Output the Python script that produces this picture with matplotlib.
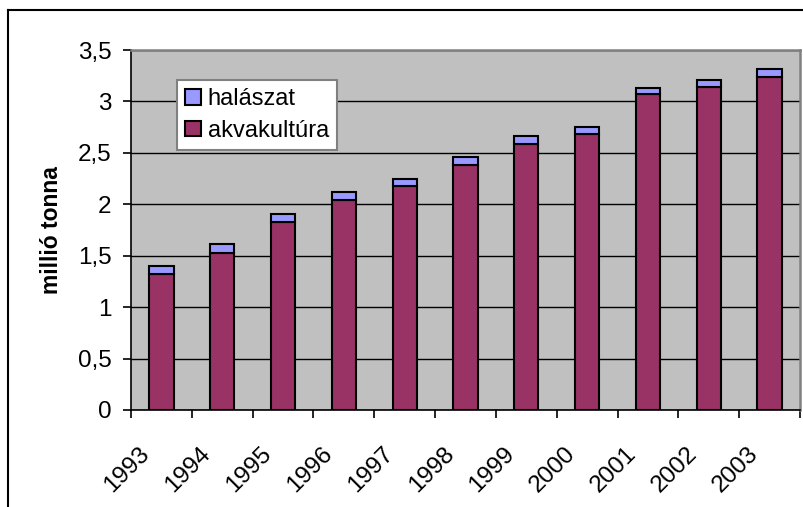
import matplotlib.pyplot as plt
import matplotlib.transforms as mtransforms
from matplotlib.ticker import FixedLocator, FuncFormatter
from matplotlib.lines import Line2D
import numpy as np

plt.rcParams['font.family'] = ['Liberation Sans', 'DejaVu Sans']

# adatok (millió tonna)
evek = ['1993', '1994', '1995', '1996', '1997', '1998',
        '1999', '2000', '2001', '2002', '2003']
akvakultura = [1.32, 1.53, 1.83, 2.04, 2.18, 2.385, 2.59, 2.68, 3.07, 3.14, 3.24]
halaszat = [0.08, 0.08, 0.08, 0.08, 0.07, 0.075, 0.075, 0.07, 0.06, 0.07, 0.075]

fig = plt.figure(figsize=(8.04, 5.07), dpi=100)
ax = fig.add_axes([131 / 804, 1 - 410 / 507, 669 / 804, 360 / 507])
ax.set_facecolor('#C0C0C0')

x = np.arange(len(evek))
ax.bar(x, akvakultura, width=0.4, color='#993366', edgecolor='black',
       linewidth=1.5, label='akvakultúra', zorder=3)
ax.bar(x, halaszat, width=0.4, bottom=akvakultura, color='#9999FF',
       edgecolor='black', linewidth=1.5, label='halászat', zorder=3)

ax.set_xlim(-0.5, len(evek) - 0.5)
ax.set_ylim(0, 3.5)
ax.set_yticks(np.arange(0, 3.51, 0.5))
ax.yaxis.set_major_formatter(FuncFormatter(lambda v, p: ('%g' % v).replace('.', ',')))
ax.grid(axis='y', color='black', linewidth=1, zorder=1)

ax.set_xticks(x)
ax.set_xticklabels(evek, rotation=45, ha='right', va='center', rotation_mode='anchor')
ax.xaxis.set_minor_locator(FixedLocator(np.arange(-0.5, len(evek), 1)))
ax.tick_params(axis='x', which='major', length=0, pad=29, labelsize=17.5)
ax.tick_params(axis='x', which='minor', length=6, width=1.2, direction='out')
ax.tick_params(axis='y', length=6, width=1.2, pad=8, labelsize=17.5)

# évszámok kissé balra tolva, mint az eredetin
eltolas = mtransforms.ScaledTranslation(-0.15, 0, fig.dpi_scale_trans)
for lbl in ax.get_xticklabels():
    lbl.set_transform(lbl.get_transform() + eltolas)

for s in ['top', 'right']:
    ax.spines[s].set_color('#808080')
    ax.spines[s].set_linewidth(1.8)
for s in ['left', 'bottom']:
    ax.spines[s].set_color('black')
    ax.spines[s].set_linewidth(1.2)

fig.text(52 / 804, 1 - 230 / 507, 'millió tonna', rotation=90, ha='center',
         va='center', fontsize=16.5, fontweight='bold')

h, l = ax.get_legend_handles_labels()
leg = ax.legend(h[::-1], l[::-1], loc='upper left', bbox_to_anchor=(177 / 804, 1 - 80 / 507),
                bbox_transform=fig.transFigure, fontsize=17, frameon=True,
                fancybox=False, framealpha=1, edgecolor='#808080',
                handlelength=0.65, handleheight=0.65, handletextpad=0.3,
                labelspacing=0.4, borderpad=0.35, borderaxespad=0)
leg.get_frame().set_linewidth(1.5)

# külső keret (bal és felső)
fig.add_artist(Line2D([8 / 804, 8 / 804], [0, 1 - 10 / 507], color='black', linewidth=1.5))
fig.add_artist(Line2D([8 / 804, 1], [1 - 10 / 507, 1 - 10 / 507], color='black', linewidth=1.5))

plt.savefig('out.png', dpi=100)
